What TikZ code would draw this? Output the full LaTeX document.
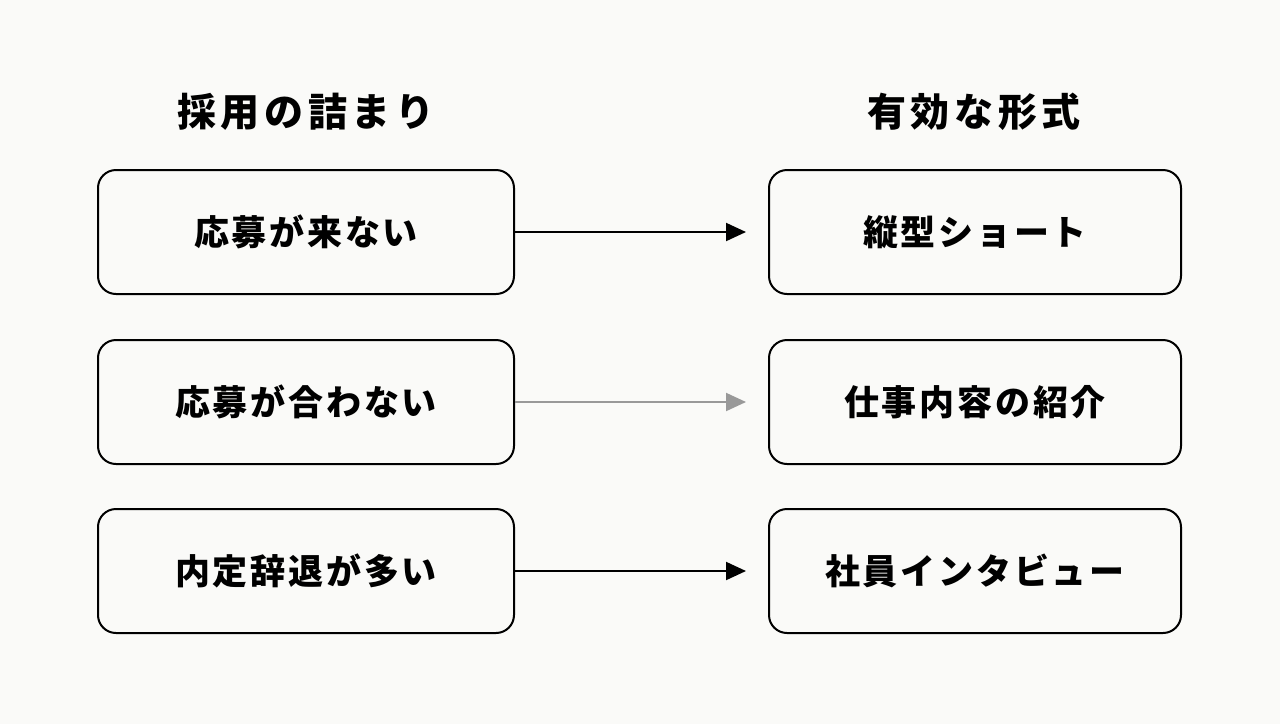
\documentclass[tikz,border=0pt]{standalone}
\usepackage{fontspec}
\newfontfamily\cjk{Noto Sans CJK JP}[LetterSpace=12]
\newfontfamily\cjkb{Noto Sans CJK JP}[LetterSpace=8]
\usetikzlibrary{arrows.meta}
\definecolor{bg}{HTML}{FAFAF8}
\begin{document}
\begin{tikzpicture}[x=1pt,y=-1pt,
 box/.style={draw=black,line width=2pt,rounded corners=18pt,minimum width=416pt,minimum height=124pt,font=\cjkb\bfseries\fontsize{35}{42}\selectfont},
 head/.style={font=\cjk\bfseries\fontsize{39}{46}\selectfont},
 arr/.style={line width=2pt,-{Triangle[length=20pt,width=18pt]}}]
\fill[bg] (0,0) rectangle (1280,724);
\useasboundingbox (0,0) rectangle (1280,724);
\node[head] (hl) at (306,112) {採用の詰まり};
\node[head] (hr) at (974,112) {有効な形式};
\node[box] (l1) at (306,232) {応募が来ない};
\node[box] (l2) at (306,402) {応募が合わない};
\node[box] (l3) at (306,571) {内定辞退が多い};
\node[box,minimum width=412pt] (r1) at (975,232) {縦型ショート};
\node[box,minimum width=412pt] (r2) at (975,402) {仕事内容の紹介};
\node[box,minimum width=412pt] (r3) at (975,571) {社員インタビュー};
\draw[arr] (l1.east) -- ([xshift=-22pt]r1.west);
\draw[arr,draw=gray!80,fill=gray!80] (l2.east) -- ([xshift=-22pt]r2.west);
\draw[arr] (l3.east) -- ([xshift=-22pt]r3.west);
\end{tikzpicture}
\end{document}
